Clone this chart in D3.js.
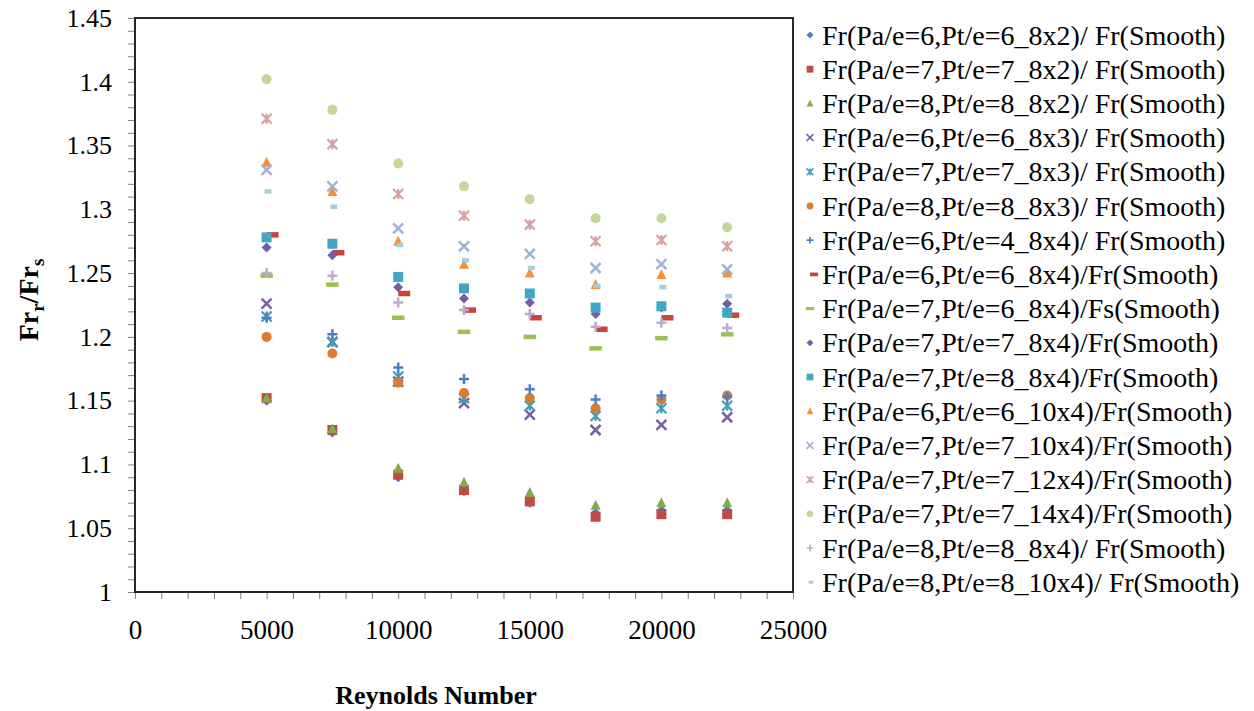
<!DOCTYPE html>
<html>
<head>
<meta charset="utf-8">
<script src="https://cdn.jsdelivr.net/npm/d3@7"></script>
<style>
  body { margin: 0; background: #fff; }
  text { font-family: "Liberation Serif", "Times New Roman", serif; }
</style>
</head>
<body>
<div id="chart"></div>
<script>
// Reynolds numbers (x)
let reynolds = [5000, 7500, 10000, 12500, 15000, 17500, 20000, 22500]

// Fr ratio for each configuration
let fr_6_6_8x2 = [1.150, 1.125, 1.090, 1.079, 1.070, 1.062, 1.064, 1.064]
let fr_7_7_8x2 = [1.152, 1.127, 1.092, 1.080, 1.071, 1.059, 1.061, 1.061]
let fr_8_8_8x2 = [1.152, 1.128, 1.097, 1.086, 1.078, 1.068, 1.070, 1.070]
let fr_6_6_8x3 = [1.226, 1.196, 1.165, 1.148, 1.139, 1.127, 1.131, 1.137]
let fr_7_7_8x3 = [1.216, 1.196, 1.169, 1.152, 1.146, 1.138, 1.144, 1.146]
let fr_8_8_8x3 = [1.200, 1.187, 1.164, 1.156, 1.152, 1.144, 1.151, 1.154]
let fr_6_4_8x4 = [1.215, 1.202, 1.176, 1.167, 1.159, 1.151, 1.154, 1.153]
let fr_6_6_8x4 = [1.280, 1.266, 1.234, 1.221, 1.215, 1.206, 1.215, 1.217]
let fr_7_6_8x4 = [1.248, 1.241, 1.215, 1.204, 1.200, 1.191, 1.199, 1.202]
let fr_7_7_8x4 = [1.270, 1.264, 1.239, 1.230, 1.227, 1.218, 1.223, 1.226]
let fr_7_8_8x4 = [1.278, 1.273, 1.247, 1.238, 1.234, 1.223, 1.224, 1.219]
let fr_6_6_10x4 = [1.337, 1.314, 1.275, 1.257, 1.250, 1.241, 1.249, 1.250]
let fr_7_7_10x4 = [1.331, 1.318, 1.285, 1.271, 1.265, 1.254, 1.257, 1.253]
let fr_7_7_12x4 = [1.371, 1.351, 1.312, 1.295, 1.288, 1.275, 1.276, 1.271]
let fr_7_7_14x4 = [1.402, 1.378, 1.336, 1.318, 1.308, 1.293, 1.293, 1.286]
let fr_8_8_8x4 = [1.250, 1.248, 1.227, 1.221, 1.218, 1.208, 1.211, 1.207]
let fr_8_8_10x4 = [1.314, 1.302, 1.272, 1.260, 1.254, 1.240, 1.239, 1.232]

let seriesNames = [
  'Fr(Pa/e=6,Pt/e=6_8x2)/ Fr(Smooth)',
  'Fr(Pa/e=7,Pt/e=7_8x2)/ Fr(Smooth)',
  'Fr(Pa/e=8,Pt/e=8_8x2)/ Fr(Smooth)',
  'Fr(Pa/e=6,Pt/e=6_8x3)/ Fr(Smooth)',
  'Fr(Pa/e=7,Pt/e=7_8x3)/ Fr(Smooth)',
  'Fr(Pa/e=8,Pt/e=8_8x3)/ Fr(Smooth)',
  'Fr(Pa/e=6,Pt/e=4_8x4)/ Fr(Smooth)',
  'Fr(Pa/e=6,Pt/e=6_8x4)/Fr(Smooth)',
  'Fr(Pa/e=7,Pt/e=6_8x4)/Fs(Smooth)',
  'Fr(Pa/e=7,Pt/e=7_8x4)/Fr(Smooth)',
  'Fr(Pa/e=7,Pt/e=8_8x4)/Fr(Smooth)',
  'Fr(Pa/e=6,Pt/e=6_10x4)/Fr(Smooth)',
  'Fr(Pa/e=7,Pt/e=7_10x4)/Fr(Smooth)',
  'Fr(Pa/e=7,Pt/e=7_12x4)/Fr(Smooth)',
  'Fr(Pa/e=7,Pt/e=7_14x4)/Fr(Smooth)',
  'Fr(Pa/e=8,Pt/e=8_8x4)/ Fr(Smooth)',
  'Fr(Pa/e=8,Pt/e=8_10x4)/ Fr(Smooth)'
]
let seriesValues = [fr_6_6_8x2, fr_7_7_8x2, fr_8_8_8x2, fr_6_6_8x3, fr_7_7_8x3, fr_8_8_8x3,
  fr_6_4_8x4, fr_6_6_8x4, fr_7_6_8x4, fr_7_7_8x4, fr_7_8_8x4, fr_6_6_10x4,
  fr_7_7_10x4, fr_7_7_12x4, fr_7_7_14x4, fr_8_8_8x4, fr_8_8_10x4]

// marker style per series
let shapes = ['diamond', 'square', 'triangle', 'x', 'asterisk', 'circle', 'plus', 'dashRed',
  'dashGreen', 'diamond', 'square', 'triangle', 'x', 'asterisk', 'circle', 'plus', 'dashSmall']
let colors = ['#4a7ebf', '#be4b48', '#86a94a', '#7b5ea3', '#3f9fba', '#db7d30', '#4a7fc6', '#c9443f',
  '#9bc152', '#7b5ba5', '#40a8c6', '#f78f33', '#9fb2d8', '#d9a0a0', '#c3d69b', '#bbabd0', '#a0cedd']

let width = 1254
let height = 711
let padLeft = 135, padRight = 793, padTop = 18, padBottom = 592

let svg = d3.select('#chart').append('svg').attr('width', width).attr('height', height)
svg.append('rect').attr('width', width).attr('height', height).attr('fill', '#fff')

let x = d3.scaleLinear().domain([0, 25000]).range([padLeft, padRight])
let y = d3.scaleLinear().domain([1, 1.45]).range([padBottom, padTop])

// y axis: minor ticks every 0.01, labels every 0.05
let yTicks = d3.range(0, 46).map(i => 1 + i * 0.01)
let yAxis = d3.axisLeft(y).tickValues(yTicks).tickSize(7).tickPadding(16)
  .tickFormat(d => Math.round(d * 100) % 5 === 0 ? String(+d.toFixed(2)) : '')
let gy = svg.append('g').attr('transform', 'translate(' + padLeft + ',0)').call(yAxis)
gy.select('.domain').remove()
gy.selectAll('line').attr('stroke', '#7f7f7f')
gy.selectAll('text').attr('font-size', 26).attr('fill', '#000')
  .style('font-family', '"Liberation Serif", serif')

// x axis: minor ticks every 1000, labels every 5000
let xTicks = d3.range(0, 26).map(i => i * 1000)
let xAxis = d3.axisBottom(x).tickValues(xTicks).tickSize(7).tickPadding(21)
  .tickFormat(d => d % 5000 === 0 ? String(d) : '')
let gx = svg.append('g').attr('transform', 'translate(0,' + padBottom + ')').call(xAxis)
gx.select('.domain').remove()
gx.selectAll('line').attr('stroke', '#7f7f7f')
gx.selectAll('text').attr('font-size', 27).attr('fill', '#000')
  .style('font-family', '"Liberation Serif", serif')

// plot frame
svg.append('rect').attr('x', padLeft).attr('y', padTop)
  .attr('width', padRight - padLeft).attr('height', padBottom - padTop)
  .attr('fill', 'none').attr('stroke', '#262626').attr('stroke-width', 2)

// draw one marker into a group
function drawMarker (g, shape, color, r) {
  if (shape === 'circle') {
    g.append('circle').attr('r', r).attr('fill', color)
  } else if (shape === 'square') {
    g.append('rect').attr('x', -r).attr('y', -r).attr('width', 2 * r).attr('height', 2 * r).attr('fill', color)
  } else if (shape === 'diamond') {
    g.append('path').attr('d', 'M0,' + (-r) + 'L' + r + ',0L0,' + r + 'L' + (-r) + ',0Z').attr('fill', color)
  } else if (shape === 'triangle') {
    g.append('path').attr('d', 'M0,' + (-r * 1.1) + 'L' + r + ',' + (r * 0.9) + 'L' + (-r) + ',' + (r * 0.9) + 'Z').attr('fill', color)
  } else if (shape === 'x') {
    g.append('path').attr('d', 'M' + (-r) + ',' + (-r) + 'L' + r + ',' + r + 'M' + (-r) + ',' + r + 'L' + r + ',' + (-r))
      .attr('stroke', color).attr('stroke-width', r * 0.5).attr('fill', 'none')
  } else if (shape === 'asterisk') {
    g.append('path').attr('d', 'M' + (-r) + ',' + (-r) + 'L' + r + ',' + r + 'M' + (-r) + ',' + r + 'L' + r + ',' + (-r) + 'M0,' + (-r) + 'L0,' + r)
      .attr('stroke', color).attr('stroke-width', r * 0.45).attr('fill', 'none')
  } else if (shape === 'plus') {
    g.append('path').attr('d', 'M' + (-r) + ',0L' + r + ',0M0,' + (-r) + 'L0,' + r)
      .attr('stroke', color).attr('stroke-width', r * 0.5).attr('fill', 'none')
  } else if (shape === 'dashRed') {
    g.append('rect').attr('x', 0).attr('y', -r * 0.55).attr('width', r * 2.4).attr('height', r * 1.1).attr('fill', color)
  } else if (shape === 'dashGreen') {
    g.append('rect').attr('x', -r * 1.25).attr('y', -r * 0.45).attr('width', r * 2.5).attr('height', r * 0.9).attr('fill', color)
  } else if (shape === 'dashSmall') {
    g.append('rect').attr('x', -r * 0.4).attr('y', -r * 0.45).attr('width', r * 1.4).attr('height', r * 0.9).attr('fill', color)
  }
}

// series markers, in order (later series on top)
seriesValues.forEach((vals, si) => {
  let g = svg.append('g').attr('class', 'series' + si)
  vals.forEach((v, i) => {
    let m = g.append('g').attr('transform', 'translate(' + x(reynolds[i]) + ',' + y(v) + ')')
    drawMarker(m, shapes[si], colors[si], 5)
  })
})

// legend
let legend = svg.append('g').attr('class', 'legend')
seriesNames.forEach((name, i) => {
  let ly = 35 + i * 34.2
  let m = legend.append('g').attr('transform', 'translate(810,' + ly + ')')
  drawMarker(m, shapes[i], colors[i], 3.4)
  legend.append('text').attr('x', 822).attr('y', ly).attr('dy', '0.34em')
    .attr('font-size', 28).attr('fill', '#000').text(name)
})

// axis titles
svg.append('text').attr('x', 436).attr('y', 704).attr('text-anchor', 'middle')
  .attr('font-size', 26).attr('font-weight', 'bold').text('Reynolds Number')

let yt = svg.append('text').attr('transform', 'translate(38,300) rotate(-90)')
  .attr('text-anchor', 'middle').attr('font-size', 28).attr('font-weight', 'bold')
yt.append('tspan').text('Fr')
yt.append('tspan').attr('font-size', 19).attr('dy', 6).text('r')
yt.append('tspan').attr('dy', -6).text('/Fr')
yt.append('tspan').attr('font-size', 19).attr('dy', 6).text('s')
</script>
</body>
</html>
